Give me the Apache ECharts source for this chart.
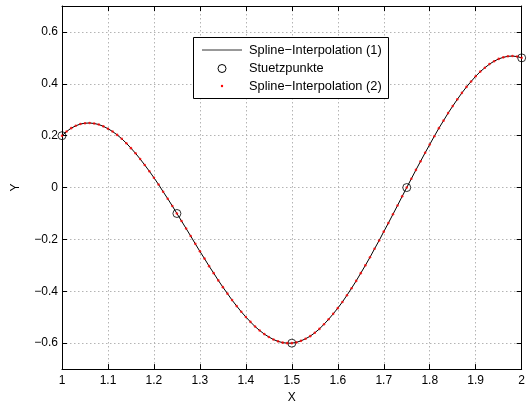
<!DOCTYPE html>
<html>
<head>
<meta charset="utf-8">
<script src="https://cdn.jsdelivr.net/npm/echarts@6/dist/echarts.min.js"></script>
<style>html,body{margin:0;padding:0;background:#fff}#c{width:528px;height:409px}</style>
</head>
<body>
<div id="c"></div>
<script>
// Support points
const knotX = [1, 1.25, 1.5, 1.75, 2];
const knotY = [0.2, -0.1, -0.6, 0, 0.5];
// Curve samples, x = 1.00 .. 2.00 step 0.01
const curveX = [1.00,1.01,1.02,1.03,1.04,1.05,1.06,1.07,1.08,1.09,1.10,1.11,1.12,1.13,1.14,1.15,1.16,1.17,1.18,1.19,1.20,1.21,1.22,1.23,1.24,1.25,1.26,1.27,1.28,1.29,1.30,1.31,1.32,1.33,1.34,1.35,1.36,1.37,1.38,1.39,1.40,1.41,1.42,1.43,1.44,1.45,1.46,1.47,1.48,1.49,1.50,1.51,1.52,1.53,1.54,1.55,1.56,1.57,1.58,1.59,1.60,1.61,1.62,1.63,1.64,1.65,1.66,1.67,1.68,1.69,1.70,1.71,1.72,1.73,1.74,1.75,1.76,1.77,1.78,1.79,1.80,1.81,1.82,1.83,1.84,1.85,1.86,1.87,1.88,1.89,1.90,1.91,1.92,1.93,1.94,1.95,1.96,1.97,1.98,1.99,2.00];
const curveY = [0.200,0.216,0.229,0.238,0.245,0.248,0.249,0.247,0.243,0.236,0.227,0.216,0.203,0.188,0.171,0.152,0.132,0.110,0.087,0.063,0.038,0.012,-0.016,-0.043,-0.071,-0.100,-0.129,-0.158,-0.187,-0.217,-0.246,-0.274,-0.303,-0.330,-0.358,-0.384,-0.409,-0.434,-0.457,-0.479,-0.499,-0.518,-0.536,-0.551,-0.565,-0.576,-0.586,-0.593,-0.598,-0.600,-0.600,-0.597,-0.591,-0.583,-0.573,-0.560,-0.545,-0.527,-0.508,-0.487,-0.465,-0.441,-0.415,-0.388,-0.360,-0.330,-0.300,-0.269,-0.236,-0.204,-0.170,-0.137,-0.103,-0.069,-0.034,0.000,0.034,0.068,0.101,0.134,0.166,0.198,0.229,0.258,0.287,0.314,0.340,0.365,0.388,0.409,0.429,0.447,0.462,0.476,0.487,0.496,0.502,0.506,0.507,0.505,0.500];
const yTicks = [-0.6, -0.4, -0.2, 0, 0.2, 0.4, 0.6];
const legendNames = ['Spline\u2212Interpolation (1)', 'Stuetzpunkte', 'Spline\u2212Interpolation (2)'];

const FONT = "'Liberation Sans', Arial, Helvetica, sans-serif";
const fmtY = v => (v < 0 ? '\u2212' + Math.abs(v) : String(v));
const gridLine = {show: true, lineStyle: {color: '#b4b4b4', width: 1, type: [1.5, 2.5]}};
const axisLineStyle = {show: true, onZero: false, lineStyle: {color: '#000', width: 1}};

const chart = echarts.init(document.getElementById('c'), null, {renderer: 'canvas'});
chart.setOption({
  animation: false,
  backgroundColor: '#fff',
  grid: {left: 62, right: 2.5, top: 6, bottom: 38, containLabel: false},
  xAxis: [{
    type: 'value', min: 1, max: 2, interval: 0.1, position: 'bottom',
    name: 'X', nameLocation: 'middle', nameGap: 22,
    nameTextStyle: {color: '#000', fontSize: 12, fontFamily: FONT},
    axisLine: axisLineStyle,
    axisTick: {show: true, inside: true, length: 5, lineStyle: {color: '#000'}},
    axisLabel: {color: '#000', fontSize: 12, fontFamily: FONT, margin: 6, formatter: v => String(+v.toFixed(1))},
    splitLine: gridLine
  }, {
    type: 'value', min: 1, max: 2, interval: 0.1, position: 'top',
    axisLine: axisLineStyle,
    axisTick: {show: true, inside: true, length: 5, lineStyle: {color: '#000'}},
    axisLabel: {show: false}, splitLine: {show: false}
  }],
  yAxis: [{
    type: 'value', min: -0.7, max: 0.7, position: 'left',
    name: 'Y', nameLocation: 'middle', nameGap: 40, nameRotate: 90,
    nameTextStyle: {color: '#000', fontSize: 12, fontFamily: FONT},
    axisLine: axisLineStyle,
    axisTick: {show: true, inside: true, length: 5, lineStyle: {color: '#000'}, customValues: yTicks},
    axisLabel: {color: '#000', fontSize: 12, fontFamily: FONT, margin: 4, customValues: yTicks, formatter: v => fmtY(+v.toFixed(1))},
    splitLine: gridLine
  }, {
    type: 'value', min: -0.7, max: 0.7, position: 'right',
    axisLine: axisLineStyle,
    axisTick: {show: true, inside: true, length: 5, lineStyle: {color: '#000'}, customValues: yTicks},
    axisLabel: {show: false}, splitLine: {show: false}
  }],
  series: [{
    name: legendNames[0], type: 'line', xAxisIndex: 0, yAxisIndex: 0,
    data: curveX.map((x, i) => [x, curveY[i]]),
    showSymbol: false, symbol: 'none', smooth: false,
    lineStyle: {color: '#000', width: 1}, z: 2
  }, {
    name: legendNames[1], type: 'scatter', xAxisIndex: 0, yAxisIndex: 0,
    data: knotX.map((x, i) => [x, knotY[i]]),
    symbol: 'circle', symbolSize: 8, clip: false,
    itemStyle: {color: 'rgba(0,0,0,0)', borderColor: '#000', borderWidth: 1}, z: 3
  }, {
    name: legendNames[2], type: 'scatter', xAxisIndex: 0, yAxisIndex: 0,
    data: curveX.map((x, i) => [x, curveY[i]]),
    symbol: 'circle', symbolSize: 2.6, clip: false,
    itemStyle: {color: '#ff0000'}, z: 4
  }],
  graphic: [
    {type: 'rect', shape: {x: 193.5, y: 37.5, width: 195, height: 61}, style: {fill: '#fff', stroke: '#000', lineWidth: 1}, z: 10},
    {type: 'line', shape: {x1: 202, y1: 50, x2: 242, y2: 50}, style: {stroke: '#333', lineWidth: 1}, z: 11},
    {type: 'circle', shape: {cx: 222, cy: 68.5, r: 4}, style: {fill: 'none', stroke: '#000', lineWidth: 1}, z: 11},
    {type: 'circle', shape: {cx: 222, cy: 86, r: 1.2}, style: {fill: '#ff0000'}, z: 11},
    {type: 'text', x: 249, y: 50, style: {text: legendNames[0], fill: '#000', font: '12.8px ' + FONT, verticalAlign: 'middle'}, z: 11},
    {type: 'text', x: 249, y: 68.5, style: {text: legendNames[1], fill: '#000', font: '12.8px ' + FONT, verticalAlign: 'middle'}, z: 11},
    {type: 'text', x: 249, y: 86, style: {text: legendNames[2], fill: '#000', font: '12.8px ' + FONT, verticalAlign: 'middle'}, z: 11}
  ]
});
</script>
</body>
</html>
